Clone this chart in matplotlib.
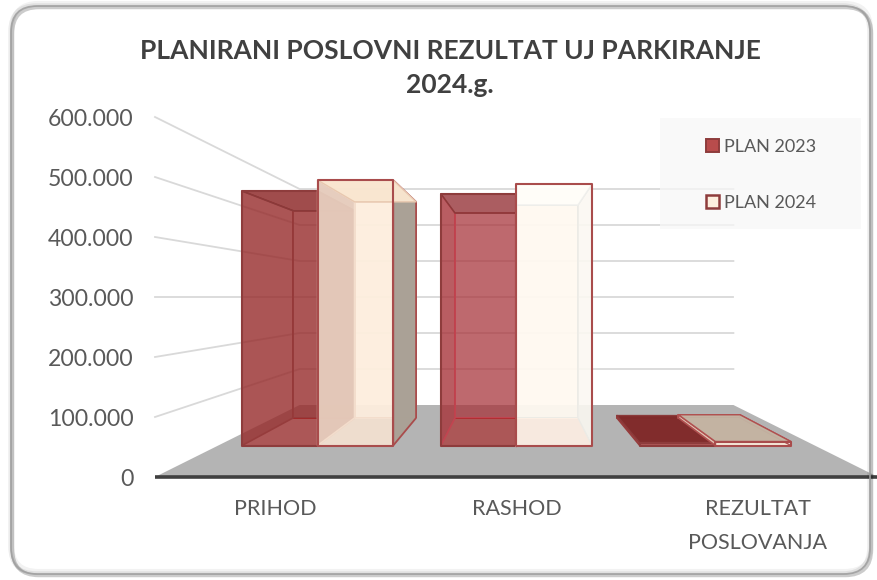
import matplotlib
matplotlib.use("Agg")
import matplotlib.pyplot as plt
from matplotlib.patches import Polygon, FancyBboxPatch, Patch, Rectangle

plt.rcParams['font.family'] = ['Lato', 'DejaVu Sans']

categories = ["PRIHOD", "RASHOD", "REZULTAT\nPOSLOVANJA"]
plan_2023 = [514000, 508000, 6000]
plan_2024 = [536000, 528000, 8000]
series_names = ["PLAN 2023", "PLAN 2024"]
y_ticks = [0, 100000, 200000, 300000, 400000, 500000, 600000]
y_tick_labels = ["0", "100.000", "200.000", "300.000", "400.000", "500.000", "600.000"]
title_text = "PLANIRANI POSLOVNI REZULTAT UJ PARKIRANJE\n2024.g."

W, H = 878, 580
fig = plt.figure(figsize=(W / 100, H / 100), dpi=100)
fig.patch.set_facecolor("white")


def frame(dx, dy, lw, col, a):
    fig.add_artist(FancyBboxPatch(((11 + dx) / W, 1 - (574 + dy) / H), 859 / W, 568 / H,
                                  boxstyle="round,pad=0,rounding_size=0.03",
                                  transform=fig.transFigure, mutation_aspect=W / H,
                                  fc="none", ec=col, lw=lw, alpha=a))


# chart frame with soft shadow
frame(1, -3, 3.0, "#000000", 0.05)
frame(-1, -1, 2.5, "#000000", 0.07)
frame(1.5, 1.5, 2.5, "#000000", 0.2)
frame(0, 0, 1.3, "#a0a0a0", 0.9)

ax = fig.add_axes([155 / W, 1 - 477 / H, 723 / W, 360 / H])
ax.patch.set_alpha(0)
ax.set_xlim(-0.5, 2.5)
ax.set_ylim(0, 600000)

VPX, VPY = 1.0, 300000
BACK, BAR_FRONT, BAR_BACK = 0.6, 0.825, 0.672
BAR_W = 0.38


def proj(x, v, s):
    return (VPX + (x - VPX) * s, VPY + (v - VPY) * s)


def poly(pts, fc, ec="none", lw=0, alpha=1.0, z=3.0):
    if alpha > 0:
        ax.add_patch(Polygon(pts, closed=True, facecolor=fc, edgecolor="none", alpha=alpha, zorder=z, clip_on=False))
    if lw:
        ax.add_patch(Polygon(pts, closed=True, facecolor="none", edgecolor=ec, lw=lw, zorder=z + 0.01,
                             clip_on=False, joinstyle="round"))


# floor
poly([proj(-0.5, 0, 1), proj(2.5, 0, 1), proj(2.5, 0, BACK), proj(-0.5, 0, BACK)], "#b4b4b4", z=1)

# gridlines: side wall and back wall
for t in y_ticks[1:]:
    a, b, c = proj(-0.5, t, 1), proj(-0.5, t, BACK), proj(2.5, t, BACK)
    ax.plot([a[0], b[0], c[0]], [a[1], b[1], c[1]], color="#d9d9d9", lw=1.3, zorder=0.5, clip_on=False,
            solid_joinstyle="miter")


def bar(x0, x1, v, st, z):
    f, b = BAR_FRONT, BAR_BACK
    p = proj
    ec = st["edge"]
    poly([p(x0, 0, b), p(x1, 0, b), p(x1, v, b), p(x0, v, b)], st["back"], st["inner"], 1.4, st["a_back"], z)
    poly([p(x0, 0, f), p(x1, 0, f), p(x1, 0, b), p(x0, 0, b)], st["bottom"], alpha=st["a_bottom"], z=z + 0.1)
    poly([p(x0, 0, f), p(x0, 0, b), p(x0, v, b), p(x0, v, f)], st["left"], st["inner"], 1.2, st["a_left"], z + 0.2)
    if x1 < VPX:  # outer right side is seen from outside
        poly([p(x1, 0, f), p(x1, 0, b), p(x1, v, b), p(x1, v, f)], st["right"], ec, 1.3, st["a_right"], z + 0.3)
    else:
        poly([p(x1, 0, f), p(x1, 0, b), p(x1, v, b), p(x1, v, f)], st["rwall"], st["inner"], 1.0, st["a_rwall"], z + 0.3)
    poly([p(x0, v, f), p(x1, v, f), p(x1, v, b), p(x0, v, b)], st["top"], st["top_edge"], 1.0, st["a_top"], z + 0.4)
    poly([p(x0, 0, f), p(x1, 0, f), p(x1, v, f), p(x0, v, f)], st["front"], ec, 1.5, st["a_front"], z + 0.5)


def style_2023(i):
    base = ["#962a2a", "#a62f36", "#962a2a"][i]
    return dict(back=base, left=base, right=base, rwall=base, bottom="#a81f1f", top=["#8f2d2d", "#96353a", "#7f2a2a"][i],
                front=base, edge="#8e3c3c", top_edge="#8a3a3a", inner=["#963c3c", "#c24450", "#963c3c"][i],
                a_back=[0.8, 0.72, 0.8][i], a_left=[0.8, 0.78, 0.0][i], a_right=0.0, a_rwall=0.0, a_bottom=0.62,
                a_top=[0.85, 0.8, 0.95][i], a_front=0.0)


def style_2024(i):
    cream = ["#fdeede", "#fff9f1", "#fdeede"][i]
    return dict(back=cream, left=["#e6ccbc", "#fff7ee", "#e2c4b4"][i], right="#a89f94", rwall="#fbf8f2",
                bottom=["#f5e2d2", "#fff0e4", "#fdeede"][i], top=["#f9e6cf", "#fffdf8", "#c2b2a1"][i],
                front=cream, edge="#a94c4c", top_edge=["#e8c8b0", "#efefec", "#b05050"][i],
                inner=["#f3ddcc", "#ecebe6", "#b05050"][i],
                a_back=0.95, a_left=0.97, a_right=0.97, a_rwall=0.9, a_bottom=0.9,
                a_top=0.97, a_front=0.0)


for i, v in enumerate(plan_2023):
    bar(i - BAR_W, i, v, style_2023(i), 3)
for i, v in enumerate(plan_2024):
    bar(i, i + BAR_W, v, style_2024(i), 3.6)

# front baseline
ax.plot([-0.5, 2.5], [0, 0], color="#404040", lw=2.6, zorder=4.5, clip_on=False, solid_capstyle="butt")

ax.set_xticks(range(len(categories)))
ax.set_xticklabels(categories, fontsize=15.5, color="#595959", linespacing=1.86)
ax.set_yticks(y_ticks)
ax.set_yticklabels(y_tick_labels, fontsize=16.6, color="#595959")
ax.tick_params(axis="x", length=0, pad=16)
ax.tick_params(axis="y", length=0, pad=15.5)
for s in ax.spines.values():
    s.set_visible(False)

handles = [Patch(facecolor="#b84c4c", edgecolor="#8e3c3c", lw=1.4),
           Patch(facecolor="#fdeede", edgecolor="#8e3c3c", lw=1.8)]
fig.add_artist(Rectangle((660 / W, 1 - 229 / H), 201 / W, 111 / H, transform=fig.transFigure,
                         fc="#f8f8f8", ec="none", alpha=0.75, zorder=5))
leg = fig.legend(handles, series_names, loc="upper left", bbox_to_anchor=(688 / W, 1 - 121 / H),
                 frameon=False, fontsize=13, labelcolor="#595959", labelspacing=2.22,
                 handlelength=0.72, handleheight=0.72, handletextpad=0.28, borderpad=0.5)
leg.set_zorder(6)

fig.suptitle(title_text, x=450 / W, y=1 - 39 / H, va="top", ha="center", fontsize=19,
             fontweight="bold", color="#404040", linespacing=1.51)

fig.savefig("out.png", dpi=100)
